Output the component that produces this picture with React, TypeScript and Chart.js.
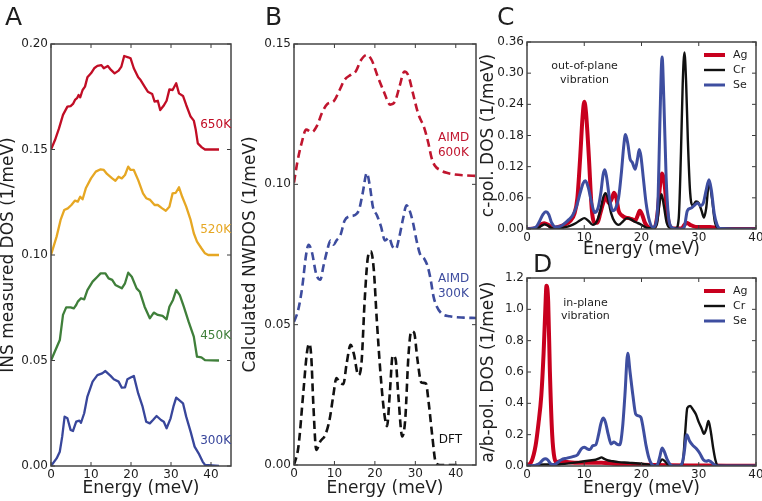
import React, { useEffect, useRef } from "react";
import { Chart, registerables } from "chart.js";

Chart.register(...registerables);

const FAMILY = '"DejaVu Sans", "Bitstream Vera Sans", sans-serif';
const W = 762;
const H = 501;

// ---------- Panel A: INS measured DOS (offset curves) ----------
const a650E = [0,1,2,3,4.1,4.9,5.5,6,6.5,6.9,7.3,7.9,8.5,9.1,10,10.8,11.6,12.6,13.2,14.2,15,15.9,16.9,17.6,18.3,19.3,19.9,20.7,21.8,22.4,23.4,24.2,25.3,25.9,26.7,27.3,28.1,28.9,29.6,30.4,31.3,32,33,33.8,34.9,35.7,36.2,36.7,37.7,38.5,42];
const a650V = [.150,.1545,.160,.1664,.1703,.1706,.1716,.1735,.1743,.1758,.1747,.1782,.1798,.1842,.1861,.1885,.1896,.190,.1885,.1896,.1877,.1861,.1874,.1893,.1943,.1937,.1932,.1885,.1842,.1829,.1798,.1774,.1763,.1727,.1731,.1687,.1706,.1731,.1785,.1782,.1814,.1766,.1754,.1711,.1656,.1637,.1592,.1529,.151,.150,.150];
const a520E = [0,1.4,2.4,3.3,4.2,5.1,6,6.7,7.3,7.9,8.7,10,11.2,12.4,13.2,14,15.3,16.1,16.9,17.7,18.5,19.3,19.9,20.7,21.8,23,23.8,24.8,25.9,26.7,27.8,28.7,29.6,30.4,31.2,32,32.8,33.8,34.9,35.7,36.5,37.6,38.5,39.3,42];
const a520V = [.100,.1087,.1166,.1213,.1221,.1237,.1258,.1253,.1276,.1264,.1316,.1363,.1395,.1406,.1403,.1384,.1363,.1352,.1371,.1363,.1379,.1419,.1403,.1403,.1355,.1292,.1269,.1261,.1237,.1237,.1221,.121,.1229,.1292,.1295,.1321,.1276,.1229,.1166,.1103,.1063,.1032,.1008,.100,.100];
const a450E = [0,2.2,3,3.8,4.9,5.7,6.3,6.7,7.5,8.3,9.1,10.4,11.6,12.4,13.6,14.4,15.3,16.1,17.7,18.5,19.3,20.2,21.4,22.2,23.4,24.7,25.7,26.7,27.9,28.9,29.6,30.5,31.3,32.2,33.2,34.4,35.7,36.5,37.6,38.5,42];
const a450V = [.050,.0597,.0716,.0752,.0752,.0747,.0763,.0779,.0795,.079,.0834,.0874,.0897,.0913,.0913,.0889,.0882,.0858,.0842,.0866,.0916,.0897,.0842,.0826,.0755,.070,.0727,.0716,.0711,.0695,.0755,.0787,.0834,.081,.0755,.0684,.0613,.0518,.0515,.0502,.050];
const a300E = [0,1.4,2.2,2.8,3.4,4.1,4.9,5.5,6.3,7.1,7.5,8.3,9.1,10.4,11.6,12.8,13.6,14.9,15.7,16.9,17.7,18.5,19.1,19.9,20.7,21.8,22.9,23.8,24.7,25.5,26.4,27.5,28.2,28.9,29.9,30.6,31.3,32.2,33,33.8,34.9,35.9,36.9,37.9,38.5,42];
const a300V = [0,.0036,.0068,.0139,.0234,.0226,.0171,.0166,.021,.0215,.0205,.025,.0329,.040,.0431,.0439,.045,.0427,.0411,.040,.0371,.0373,.0411,.0419,.0427,.0344,.0281,.021,.0202,.0218,.0237,.0218,.021,.0179,.0226,.0281,.0324,.031,.0297,.0234,.0163,.0092,.006,.0021,.0005,0];

// ---------- Panel B: calculated NWDOS ----------
const b600E = [0,0.8,1.9,3,4.4,5.7,6.9,8.3,9.8,11.3,12.5,14,15.25,16.5,18,19.2,20.7,22.2,23.8,25,26.1,27.3,28.3,29.4,30.7,32.2,33.2,34,34.8,36.1,37.75,39.8,42.3,45];
const b600V = [.1006,.1077,.1148,.1195,.1186,.1209,.1254,.1287,.1296,.1337,.1372,.139,.1402,.1441,.1461,.1443,.1384,.1331,.1284,.1296,.1349,.1402,.1387,.1325,.1252,.1201,.1148,.1095,.1067,.1051,.1041,.1035,.1032,.103];
const b300E = [0,1,2,3,3.6,4.4,5.5,6.5,7.3,8.3,9,9.8,10.5,11.5,12.5,13.5,15,16.1,17,18,18.8,19.5,20.5,21.5,22.5,23.5,24.3,25.2,26,27,27.8,28.5,29.4,30.3,31.2,32.2,33,33.8,34.5,35.3,36.5,38.5,42,45];
const b300V = [.051,.055,.063,.075,.0785,.076,.068,.066,.071,.077,.080,.0785,.080,.082,.087,.0885,.089,.091,.097,.104,.099,.092,.089,.085,.080,.081,.078,.077,.081,.088,.0925,.091,.0865,.080,.075,.0735,.071,.066,.060,.0565,.054,.053,.0525,.0524];
const dftE = [0,1.1,2.3,3.2,3.75,4.25,4.8,5.5,6.5,7.75,8.8,9.7,10.5,11.3,12.2,13,14,14.8,15.9,16.7,17.5,18.3,19,19.7,20.5,21.5,22.3,23,23.7,24.4,25.1,25.8,26.75,27.5,28.3,29,29.7,30.5,31.5,32.6,33.3,34.2,35,36.1,41];
const dftV = [0,.0066,.0258,.040,.0432,.039,.021,.0054,.0084,.0108,.0162,.0246,.031,.0294,.0288,.036,.0428,.0396,.032,.0366,.0593,.0743,.0761,.0701,.051,.0306,.0186,.0138,.0258,.039,.0378,.0246,.0102,.0162,.039,.0476,.0471,.0378,.0294,.0291,.0222,.0102,.0012,0,0];

// ---------- Panel C: c-polarized partial DOS ----------
const cAgE = [0,1.5,2.3,3.0,3.7,4.5,5.5,6.5,7.5,8.3,8.8,9.3,9.7,10.0,10.3,10.8,11.3,11.8,12.3,12.8,13.3,13.8,14.3,14.8,15.2,15.6,16.0,16.6,17.2,17.8,18.3,18.9,19.3,19.7,20.1,20.6,21.5,22.3,22.8,23.2,23.6,24.0,24.4,24.8,25.5,27.0,27.5,27.9,28.5,29.5,31,32,33,34,40];
const cAgV = [0,0.001,0.008,0.011,0.008,0.002,0.004,0.008,0.015,0.03,0.06,0.14,0.215,0.245,0.225,0.14,0.04,0.012,0.012,0.03,0.05,0.062,0.05,0.058,0.07,0.06,0.035,0.026,0.022,0.021,0.019,0.016,0.025,0.035,0.028,0.012,0.002,0.003,0.03,0.08,0.107,0.09,0.04,0.01,0.001,0.001,0.008,0.012,0.008,0.004,0.004,0.004,0.002,0,0];
const cCrE = [0,1.8,2.5,3.1,3.7,4.5,5.5,6.5,7.5,8.5,9.3,10.0,10.7,11.5,12.2,12.8,13.3,13.7,14.1,14.7,15.3,16.0,16.8,17.5,18.2,19.0,19.7,20.3,21.0,22.0,22.7,23.1,23.5,23.9,24.4,25.0,26.0,26.5,26.9,27.2,27.5,27.8,28.1,28.5,29.0,29.5,30.0,30.5,30.9,31.3,31.8,32.3,32.8,33.5,40];
const cCrV = [0,0.001,0.006,0.009,0.006,0.001,0.001,0.003,0.006,0.011,0.017,0.021,0.016,0.008,0.015,0.035,0.06,0.069,0.06,0.03,0.014,0.008,0.015,0.021,0.018,0.013,0.01,0.006,0.002,0.001,0.01,0.045,0.067,0.045,0.012,0.002,0.001,0.02,0.15,0.28,0.34,0.28,0.17,0.07,0.045,0.053,0.05,0.035,0.022,0.04,0.09,0.06,0.015,0.001,0];
const cSeE = [0,1.5,2.2,2.8,3.3,3.8,4.3,5.0,5.8,6.5,7.3,8.0,8.7,9.3,9.8,10.2,10.7,11.2,11.8,12.4,12.9,13.3,13.6,13.9,14.4,15.0,15.5,16.0,16.5,16.9,17.2,17.6,18.0,18.4,18.9,19.3,19.6,19.9,20.3,20.8,21.4,22.0,22.5,22.9,23.2,23.6,23.9,24.3,24.7,25.2,26.0,27.0,27.5,28.0,28.6,29.2,29.8,30.3,30.8,31.3,31.8,32.2,32.7,33.2,33.7,40];
const cSeV = [0,0.003,0.015,0.028,0.033,0.028,0.012,0.004,0.005,0.01,0.018,0.027,0.045,0.07,0.088,0.093,0.08,0.055,0.032,0.04,0.07,0.105,0.114,0.1,0.06,0.035,0.04,0.06,0.11,0.16,0.182,0.165,0.135,0.128,0.115,0.135,0.153,0.14,0.1,0.05,0.015,0.003,0.01,0.06,0.2,0.331,0.25,0.1,0.025,0.004,0,0,0.005,0.035,0.04,0.045,0.05,0.045,0.05,0.075,0.095,0.075,0.03,0.008,0.001,0];

// ---------- Panel D: a/b-polarized partial DOS ----------
const dAgE = [0,0.8,1.5,2.0,2.5,2.9,3.2,3.4,3.7,4.0,4.4,4.8,5.2,5.8,7,9,11,13,15,17,20,25,30,35,40];
const dAgV = [0,0.03,0.13,0.27,0.45,0.72,1.0,1.15,1.05,0.6,0.2,0.05,0.025,0.03,0.025,0.02,0.02,0.02,0.015,0.01,0.008,0.004,0.003,0.002,0.002];
const dCrE = [0,1,2,3,4,5,6,7,8,9,10,11,12,12.6,13,13.5,14.2,15,16,17,18,19,20,21,22,22.7,23.2,23.6,24.1,24.6,25.2,26.5,27.2,27.6,28,28.5,29,29.5,30,30.5,30.9,31.3,31.7,32.1,32.5,32.9,33.3,40];
const dCrV = [0,0.002,0.008,0.01,0.01,0.01,0.012,0.015,0.02,0.025,0.03,0.035,0.04,0.048,0.055,0.045,0.035,0.03,0.025,0.022,0.02,0.018,0.015,0.01,0.002,0.005,0.025,0.042,0.03,0.01,0.001,0,0.02,0.2,0.37,0.383,0.36,0.33,0.28,0.24,0.205,0.235,0.287,0.22,0.12,0.04,0.002,0];
const dSeE = [0,1.5,2.3,2.8,3.2,3.6,4.1,4.7,5.3,6.0,7.0,8.0,8.8,9.5,10.0,10.5,11.0,11.5,12.0,12.5,12.9,13.3,13.7,14.2,14.7,15.2,15.7,16.2,16.7,17.1,17.6,18.0,18.5,19.0,19.5,19.9,20.3,20.8,21.3,21.8,22.3,22.8,23.2,23.6,24.0,24.5,25.0,25.5,26.5,27.0,27.4,27.9,28.4,29.0,29.6,30.2,30.8,31.3,31.7,32.2,32.7,33.2,40];
const dSeV = [0,0.005,0.02,0.04,0.047,0.04,0.015,0.008,0.02,0.04,0.05,0.06,0.07,0.11,0.12,0.11,0.105,0.13,0.135,0.2,0.27,0.306,0.28,0.2,0.14,0.153,0.14,0.135,0.25,0.45,0.72,0.6,0.45,0.33,0.32,0.31,0.24,0.13,0.05,0.01,0,0.01,0.06,0.115,0.09,0.04,0.01,0,0,0.01,0.07,0.2,0.16,0.13,0.11,0.08,0.04,0.03,0.035,0.025,0.008,0,0];

// ---------- ticks ----------
const xTicksAB = [0, 10, 20, 30, 40];
const xTicksCD = [0, 10, 20, 30, 40];
const yTicksA = [0, 0.05, 0.1, 0.15, 0.2];
const yTicksB = [0, 0.05, 0.1, 0.15];
const yTicksC = [0, 0.06, 0.12, 0.18, 0.24, 0.3, 0.36];
const yTicksD = [0, 0.2, 0.4, 0.6, 0.8, 1.0, 1.2];

// ---------- colours ----------
const RED_A = "#c10d25";
const ORANGE = "#e6a723";
const GREEN = "#3f7f3a";
const BLUE_A = "#38469b";
const RED_B = "#c0152e";
const BLUE_B = "#3d4c9e";
const BLACK = "#111111";
const AG = "#c8001e";
const CR = "#111111";
const SE = "#3e4ea0";
const TXT = "#1e1e1e";

type Series = { label: string; x: number[]; y: number[]; color: string; width: number; dash?: number[]; smooth?: boolean; order?: number };
type Note = { text: string; x: number; y: number; color: string; size: number; align: CanvasTextAlign };
type Panel = {
  area: [number, number, number, number];
  yScaleLeft: number;
  xScaleBottom: number;
  xMax: number;
  yMax: number;
  xTicks: number[];
  yTicks: number[];
  yDigits: number;
  yTitle: string;
  series: Series[];
  notes: Note[];
  letter: [string, number, number];
  legend: boolean;
};

const PANELS: Panel[] = [
  {
    area: [51, 44, 231, 466], yScaleLeft: 0, xScaleBottom: 497.5,
    xMax: 45, yMax: 0.2, xTicks: xTicksAB, yTicks: yTicksA, yDigits: 2,
    yTitle: "INS measured DOS (1/meV)",
    series: [
      { label: "650K", x: a650E, y: a650V, color: RED_A, width: 2.3 },
      { label: "520K", x: a520E, y: a520V, color: ORANGE, width: 2.3 },
      { label: "450K", x: a450E, y: a450V, color: GREEN, width: 2.3 },
      { label: "300K", x: a300E, y: a300V, color: BLUE_A, width: 2.3 },
    ],
    notes: [
      { text: "650K", x: 45, y: 0.1618, color: RED_A, size: 12, align: "right" },
      { text: "520K", x: 45, y: 0.1118, color: ORANGE, size: 12, align: "right" },
      { text: "450K", x: 45, y: 0.0618, color: GREEN, size: 12, align: "right" },
      { text: "300K", x: 45, y: 0.0118, color: BLUE_A, size: 12, align: "right" },
    ],
    letter: ["A", 5, 25], legend: false,
  },
  {
    area: [294, 44, 476, 465], yScaleLeft: 242, xScaleBottom: 497.5,
    xMax: 45, yMax: 0.15, xTicks: xTicksAB, yTicks: yTicksB, yDigits: 2,
    yTitle: "Calculated NWDOS (1/meV)",
    series: [
      { label: "AIMD 600K", x: b600E, y: b600V, color: RED_B, width: 2.6, dash: [8, 4.5], smooth: true },
      { label: "AIMD 300K", x: b300E, y: b300V, color: BLUE_B, width: 2.6, dash: [8, 4.5], smooth: true },
      { label: "DFT", x: dftE, y: dftV, color: BLACK, width: 2.6, dash: [8, 4.5], smooth: true },
    ],
    notes: [
      { text: "AIMD", x: 35.6, y: 0.1165, color: RED_B, size: 12, align: "left" },
      { text: "600K", x: 35.6, y: 0.1111, color: RED_B, size: 12, align: "left" },
      { text: "AIMD", x: 35.6, y: 0.0664, color: BLUE_B, size: 12, align: "left" },
      { text: "300K", x: 35.6, y: 0.0609, color: BLUE_B, size: 12, align: "left" },
      { text: "DFT", x: 35.8, y: 0.0089, color: BLACK, size: 12, align: "left" },
    ],
    letter: ["B", 265, 25], legend: false,
  },
  {
    area: [527, 42, 756, 229], yScaleLeft: 480.5, xScaleBottom: 258,
    xMax: 40, yMax: 0.36, xTicks: xTicksCD, yTicks: yTicksC, yDigits: 2,
    yTitle: "c-pol. DOS (1/meV)",
    series: [
      { label: "Ag", x: cAgE, y: cAgV, color: AG, width: 4, smooth: true, order: 2 },
      { label: "Cr", x: cCrE, y: cCrV, color: CR, width: 2.4, smooth: true, order: 1 },
      { label: "Se", x: cSeE, y: cSeV, color: SE, width: 3, smooth: true, order: 0 },
    ],
    notes: [
      { text: "out-of-plane", x: 10.05, y: 0.3138, color: TXT, size: 11, align: "center" },
      { text: "vibration", x: 10.05, y: 0.2868, color: TXT, size: 11, align: "center" },
    ],
    letter: ["C", 497, 25], legend: true,
  },
  {
    area: [527, 278, 756, 466], yScaleLeft: 480.5, xScaleBottom: 497.5,
    xMax: 40, yMax: 1.2, xTicks: xTicksCD, yTicks: yTicksD, yDigits: 1,
    yTitle: "a/b-pol. DOS (1/meV)",
    series: [
      { label: "Ag", x: dAgE, y: dAgV, color: AG, width: 4, smooth: true, order: 2 },
      { label: "Cr", x: dCrE, y: dCrV, color: CR, width: 2.4, smooth: true, order: 1 },
      { label: "Se", x: dSeE, y: dSeV, color: SE, width: 3, smooth: true, order: 0 },
    ],
    notes: [
      { text: "in-plane", x: 10.2, y: 1.0404, color: TXT, size: 11, align: "center" },
      { text: "vibration", x: 10.2, y: 0.957, color: TXT, size: 11, align: "center" },
    ],
    letter: ["D", 533, 272], legend: true,
  },
];

function makeChart(canvas: HTMLCanvasElement, p: Panel) {
  const [L, T, R, B] = p.area;
  const wy = L - p.yScaleLeft;
  const hx = p.xScaleBottom - B;

  const decor = {
    id: "decor",
    afterDatasetsDraw(chart: any) {
      const { ctx, chartArea: a, scales } = chart;
      const sx = scales.x;
      const sy = scales.y;
      ctx.save();
      // inward tick marks on all four sides
      ctx.strokeStyle = "#3a3a3a";
      ctx.lineWidth = 1;
      const tl = 4;
      ctx.beginPath();
      for (const t of sx.ticks) {
        const px = sx.getPixelForValue(t.value);
        ctx.moveTo(px, a.bottom); ctx.lineTo(px, a.bottom - tl);
        ctx.moveTo(px, a.top); ctx.lineTo(px, a.top + tl);
      }
      for (const t of sy.ticks) {
        const py = sy.getPixelForValue(t.value);
        ctx.moveTo(a.left, py); ctx.lineTo(a.left + tl, py);
        ctx.moveTo(a.right, py); ctx.lineTo(a.right - tl, py);
      }
      ctx.stroke();
      // frame
      ctx.lineWidth = 1.5;
      ctx.strokeStyle = "#444";
      ctx.strokeRect(a.left, a.top, a.right - a.left, a.bottom - a.top);
      // annotations placed in data coordinates
      ctx.textBaseline = "middle";
      for (const n of p.notes) {
        ctx.font = `${n.size}px ${FAMILY}`;
        ctx.fillStyle = n.color;
        ctx.textAlign = n.align;
        ctx.fillText(n.text, sx.getPixelForValue(n.x), sy.getPixelForValue(n.y));
      }
      // legend inside the top-right corner
      if (p.legend) {
        ctx.font = `11px ${FAMILY}`;
        ctx.textAlign = "left";
        chart.data.datasets.forEach((ds: any, i: number) => {
          const y = a.top + 13 + 15 * i;
          ctx.strokeStyle = ds.borderColor;
          ctx.lineWidth = ds.borderWidth;
          ctx.setLineDash([]);
          ctx.beginPath();
          ctx.moveTo(a.right - 52, y);
          ctx.lineTo(a.right - 31, y);
          ctx.stroke();
          ctx.fillStyle = TXT;
          ctx.fillText(ds.label, a.right - 23, y);
        });
      }
      // panel letter
      ctx.font = `25px ${FAMILY}`;
      ctx.fillStyle = TXT;
      ctx.textAlign = "left";
      ctx.textBaseline = "alphabetic";
      ctx.fillText(p.letter[0], p.letter[1], p.letter[2]);
      ctx.restore();
    },
  };

  return new Chart(canvas, {
    type: "line",
    data: {
      datasets: p.series.map((s, i) => ({
        label: s.label,
        data: s.x.map((x, j) => ({ x, y: s.y[j] })),
        borderColor: s.color,
        backgroundColor: s.color,
        borderWidth: s.width,
        borderDash: s.dash || [],
        borderCapStyle: "butt",
        borderJoinStyle: "round",
        pointRadius: 0,
        pointHoverRadius: 0,
        fill: false,
        tension: 0,
        cubicInterpolationMode: s.smooth ? "monotone" : "default",
        order: s.order ?? i,
      })),
    },
    options: {
      responsive: false,
      animation: false,
      events: [],
      layout: { padding: { left: p.yScaleLeft, top: T, right: W - R, bottom: H - p.xScaleBottom } },
      plugins: { legend: { display: false }, tooltip: { enabled: false }, title: { display: false } },
      scales: {
        x: {
          type: "linear",
          position: "bottom",
          min: 0,
          max: p.xMax,
          grid: { display: false, drawTicks: false },
          border: { display: false },
          ticks: {
            padding: 2,
            autoSkip: false,
            maxRotation: 0,
            color: TXT,
            font: { family: FAMILY, size: 12 },
            callback: (v: any) => String(v),
          },
          title: { display: true, text: "Energy (meV)", color: TXT, font: { family: FAMILY, size: 17, lineHeight: 1 }, padding: 0 },
          afterBuildTicks: (s: any) => { s.ticks = p.xTicks.map((v) => ({ value: v })); },
          afterFit: (s: any) => { s.height = hx; s.paddingLeft = 0; s.paddingRight = 0; },
        },
        y: {
          type: "linear",
          position: "left",
          min: 0,
          max: p.yMax,
          grid: { display: false, drawTicks: false },
          border: { display: false },
          ticks: {
            padding: 3,
            autoSkip: false,
            color: TXT,
            font: { family: FAMILY, size: 12 },
            callback: (v: any) => Number(v).toFixed(p.yDigits),
          },
          title: { display: true, text: p.yTitle, color: TXT, font: { family: FAMILY, size: 17, lineHeight: 1 }, padding: 0 },
          afterBuildTicks: (s: any) => { s.ticks = p.yTicks.map((v) => ({ value: v })); },
          afterFit: (s: any) => { s.width = wy; s.paddingTop = 0; s.paddingBottom = 0; },
        },
      },
    } as any,
    plugins: [decor],
  } as any);
}

export default function App() {
  const refs = useRef<(HTMLCanvasElement | null)[]>([]);
  useEffect(() => {
    const charts = PANELS.map((p, i) => makeChart(refs.current[i] as HTMLCanvasElement, p));
    return () => charts.forEach((c) => c.destroy());
  }, []);
  return (
    <div style={{ position: "absolute", left: 0, top: 0, width: W, height: H, overflow: "hidden", background: "#fff" }}>
      {PANELS.map((_, i) => (
        <canvas
          key={i}
          ref={(el) => { refs.current[i] = el; }}
          width={W}
          height={H}
          style={{ position: "absolute", left: 0, top: 0, width: W, height: H }}
        />
      ))}
    </div>
  );
}
